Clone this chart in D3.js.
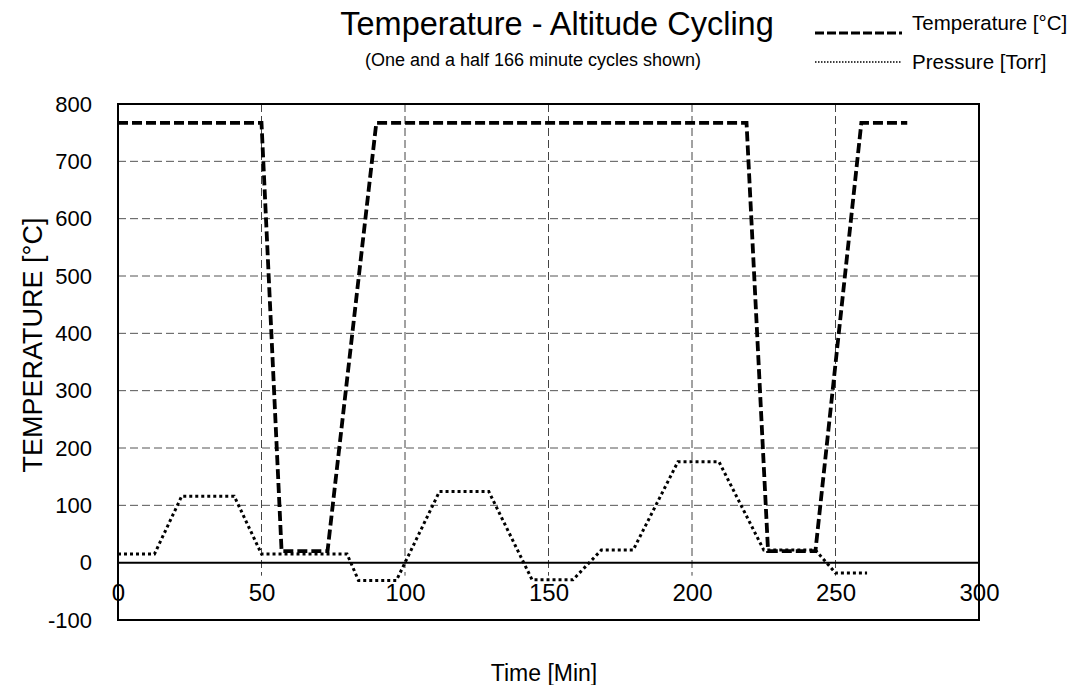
<!DOCTYPE html>
<html>
<head>
<meta charset="utf-8">
<script src="https://cdn.jsdelivr.net/npm/d3@7"></script>
<style>
  html, body { margin: 0; padding: 0; background: #fff; }
  svg { display: block; font-family: "Liberation Sans", Arial, sans-serif; }
</style>
</head>
<body>
<svg id="chart" width="1074" height="685"></svg>
<script>
// ---- data ----
const tempTime = [0, 50, 57, 73, 90, 219, 226.5, 243, 259, 275];
const tempVal  = [767, 767, 20, 20, 767, 767, 20, 20, 767, 767];

const pressTime = [0, 12.7, 22.2, 40.5, 50, 79.8, 83.8, 97, 112, 129.2, 144.3, 158.5, 168.4, 179.5, 195.1, 209.4, 225, 243, 250, 261];
const pressVal  = [15, 15, 116, 116, 15, 15, -31, -31, 124, 124, -30, -30, 22, 22, 176, 176, 22, 22, -18, -18];

const xTicks = [0, 50, 100, 150, 200, 250, 300];
const yTicks = [-100, 0, 100, 200, 300, 400, 500, 600, 700, 800];

const titleText = "Temperature - Altitude Cycling";
const subtitleText = "(One and a half 166 minute cycles shown)";
const seriesNames = ["Temperature [°C]", "Pressure [Torr]"];
const xTitle = "Time [Min]";
const yTitle = "TEMPERATURE [°C]";

// ---- layout ----
const svg = d3.select("#chart");
const L = 118, R = 979, T = 104, B = 620;
const FONT = '"Liberation Sans", Arial, sans-serif';

const x = d3.scaleLinear().domain([0, 300]).range([L, R]);
const y = d3.scaleLinear().domain([-100, 800]).range([B, T]);

// gridlines (horizontal)
svg.append("g").selectAll("line")
  .data(yTicks.filter(v => v !== 0 && v !== 800 && v !== -100))
  .join("line")
  .attr("x1", L).attr("x2", R)
  .attr("y1", d => y(d)).attr("y2", d => y(d))
  .attr("stroke", "#555").attr("stroke-width", 1)
  .attr("stroke-dasharray", "8,4");

// gridlines (vertical), extending slightly below zero line
svg.append("g").selectAll("line")
  .data(xTicks.filter(v => v !== 0 && v !== 300))
  .join("line")
  .attr("x1", d => x(d)).attr("x2", d => x(d))
  .attr("y1", T).attr("y2", y(0) + 13)
  .attr("stroke", "#444").attr("stroke-width", 1)
  .attr("stroke-dasharray", "8,4");

// plot border
svg.append("rect")
  .attr("x", L).attr("y", T).attr("width", R - L).attr("height", B - T)
  .attr("fill", "none").attr("stroke", "#000").attr("stroke-width", 2);

// zero line
svg.append("line")
  .attr("x1", L).attr("x2", R).attr("y1", y(0)).attr("y2", y(0))
  .attr("stroke", "#000").attr("stroke-width", 2);

// axes
const yAxis = d3.axisLeft(y).tickValues(yTicks).tickSize(0).tickPadding(26)
  .tickFormat(d => String(d));
const gy = svg.append("g").attr("transform", `translate(${L},0)`).call(yAxis);
gy.select(".domain").remove();
gy.selectAll("text").attr("font-size", 22).attr("fill", "#000")
  .style("font-family", FONT);

const xAxis = d3.axisBottom(x).tickValues(xTicks).tickSize(0).tickPadding(21)
  .tickFormat(d => String(d));
const gx = svg.append("g").attr("transform", `translate(0,${y(0)})`).call(xAxis);
gx.select(".domain").remove();
gx.selectAll("text").attr("font-size", 24).attr("fill", "#000")
  .style("font-family", FONT);

// lines
const line = d3.line().x(d => x(d[0])).y(d => y(d[1]));
const pressData = pressTime.map((t, i) => [t, pressVal[i]]);
const tempData = tempTime.map((t, i) => [t, tempVal[i]]);

svg.append("path").datum(pressData)
  .attr("d", line).attr("fill", "none")
  .attr("stroke", "#000").attr("stroke-width", 3)
  .attr("stroke-dasharray", "3,3");

svg.append("path").datum(tempData)
  .attr("d", line).attr("fill", "none")
  .attr("stroke", "#000").attr("stroke-width", 3.8)
  .attr("stroke-dasharray", "10,4");

// titles
svg.append("text").attr("x", 557).attr("y", 35)
  .attr("text-anchor", "middle").attr("font-size", 32.5).attr("fill", "#000")
  .text(titleText);
svg.append("text").attr("x", 533).attr("y", 66)
  .attr("text-anchor", "middle")
  .attr("font-size", 18).attr("fill", "#000")
  .text(subtitleText);

// legend
svg.append("line").attr("x1", 815).attr("x2", 902).attr("y1", 33).attr("y2", 33)
  .attr("stroke", "#000").attr("stroke-width", 3).attr("stroke-dasharray", "9,3");
svg.append("text").attr("x", 912).attr("y", 30).attr("font-size", 20.5).attr("fill", "#000")
  .text(seriesNames[0]);
svg.append("line").attr("x1", 815).attr("x2", 902).attr("y1", 62).attr("y2", 62)
  .attr("stroke", "#000").attr("stroke-width", 1.5).attr("stroke-dasharray", "1.5,1.5");
svg.append("text").attr("x", 912).attr("y", 69).attr("font-size", 20.5).attr("fill", "#000")
  .text(seriesNames[1]);

// axis titles
svg.append("text").attr("x", 544).attr("y", 681)
  .attr("text-anchor", "middle").attr("font-size", 23).attr("fill", "#000")
  .text(xTitle);
svg.append("text")
  .attr("transform", "translate(42,345) rotate(-90)")
  .attr("text-anchor", "middle").attr("font-size", 27).attr("fill", "#000")
  .text(yTitle);
</script>
</body>
</html>
